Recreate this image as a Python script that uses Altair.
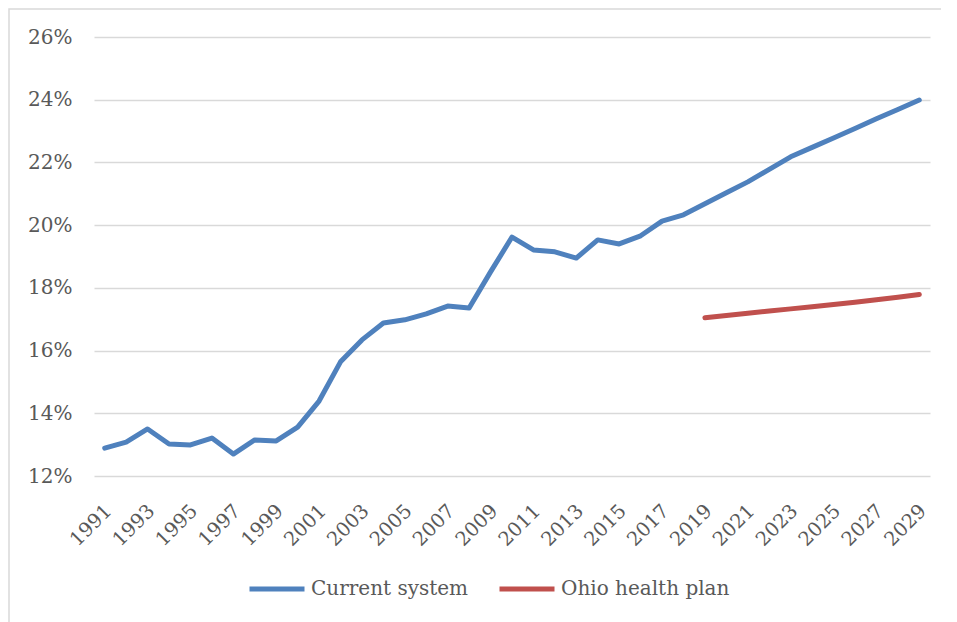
import altair as alt
import pandas as pd

years = list(range(1991, 2030))
current_system = [
    12.89, 13.08, 13.50, 13.02, 12.99, 13.21, 12.70, 13.15, 13.12, 13.56,
    14.39, 15.64, 16.34, 16.88, 16.98, 17.17, 17.42, 17.36, 18.51, 19.62,
    19.21, 19.15, 18.95, 19.53, 19.40, 19.66, 20.13, 20.33, 20.68, 21.03,
    21.38, 21.78, 22.18, 22.48, 22.78, 23.08, 23.39, 23.69, 23.99,
]
plan_years = list(range(2019, 2030))
ohio_plan = [17.05, 17.12, 17.19, 17.26, 17.33, 17.40, 17.47, 17.54, 17.62, 17.70, 17.79]
series_names = ["Current system", "Ohio health plan"]
series_colors = ["#4f81bd", "#c0504d"]
y_ticks = [12, 14, 16, 18, 20, 22, 24, 26]
x_label_years = years[::2]

rows = [{"year": y, "value": v, "series": series_names[0]} for y, v in zip(years, current_system)]
rows += [{"year": y, "value": v, "series": series_names[1]} for y, v in zip(plan_years, ohio_plan)]
df = pd.DataFrame(rows)

FONT = "DejaVu Serif"
TXT = "#595959"

lines = alt.Chart(df).mark_line(strokeWidth=5, strokeCap="round", strokeJoin="round").encode(
    x=alt.X("year:O", scale=alt.Scale(domain=years, padding=0.5),
            axis=alt.Axis(values=x_label_years, labelAngle=-45, title=None, grid=False,
                          ticks=False, domain=False, labelFont=FONT, labelFontSize=19.5,
                          labelColor=TXT, labelPadding=25, labelAlign="right",
                          labelBaseline="top", labelOffset=-3)),
    y=alt.Y("value:Q", scale=alt.Scale(domain=[12, 26], nice=False, zero=False),
            axis=alt.Axis(values=y_ticks, labelExpr="datum.value + '%'", title=None,
                          grid=True, gridColor="#d9d9d9", gridWidth=1.5, ticks=False,
                          domain=False, labelFont=FONT, labelFontSize=20, labelColor=TXT,
                          labelPadding=22)),
    color=alt.Color("series:N", scale=alt.Scale(domain=series_names, range=series_colors),
                    legend=alt.Legend(title=None, orient="none", legendX=153, legendY=522,
                                      direction="horizontal", symbolType="stroke",
                                      symbolSize=3025, symbolStrokeWidth=5,
                                      labelFont=FONT, labelFontSize=20, labelColor=TXT,
                                      labelOffset=4, columnPadding=20, padding=0,
                                      labelLimit=400)),
    detail="series:N",
)

border = alt.Chart(pd.DataFrame({"a": [0]})).mark_rect(
    fill=None, stroke="#d9d9d9", strokeWidth=1.5
).encode(
    x=alt.value(-85), x2=alt.value(1000), y=alt.value(-28), y2=alt.value(800)
)

chart = alt.layer(border, lines).properties(
    width=836, height=439,
    autosize="none",
    padding={"left": 86, "top": 29, "right": 11, "bottom": 146},
).configure_view(stroke=None)

chart.save("out.html", embed_options={"renderer": "svg", "actions": False})
